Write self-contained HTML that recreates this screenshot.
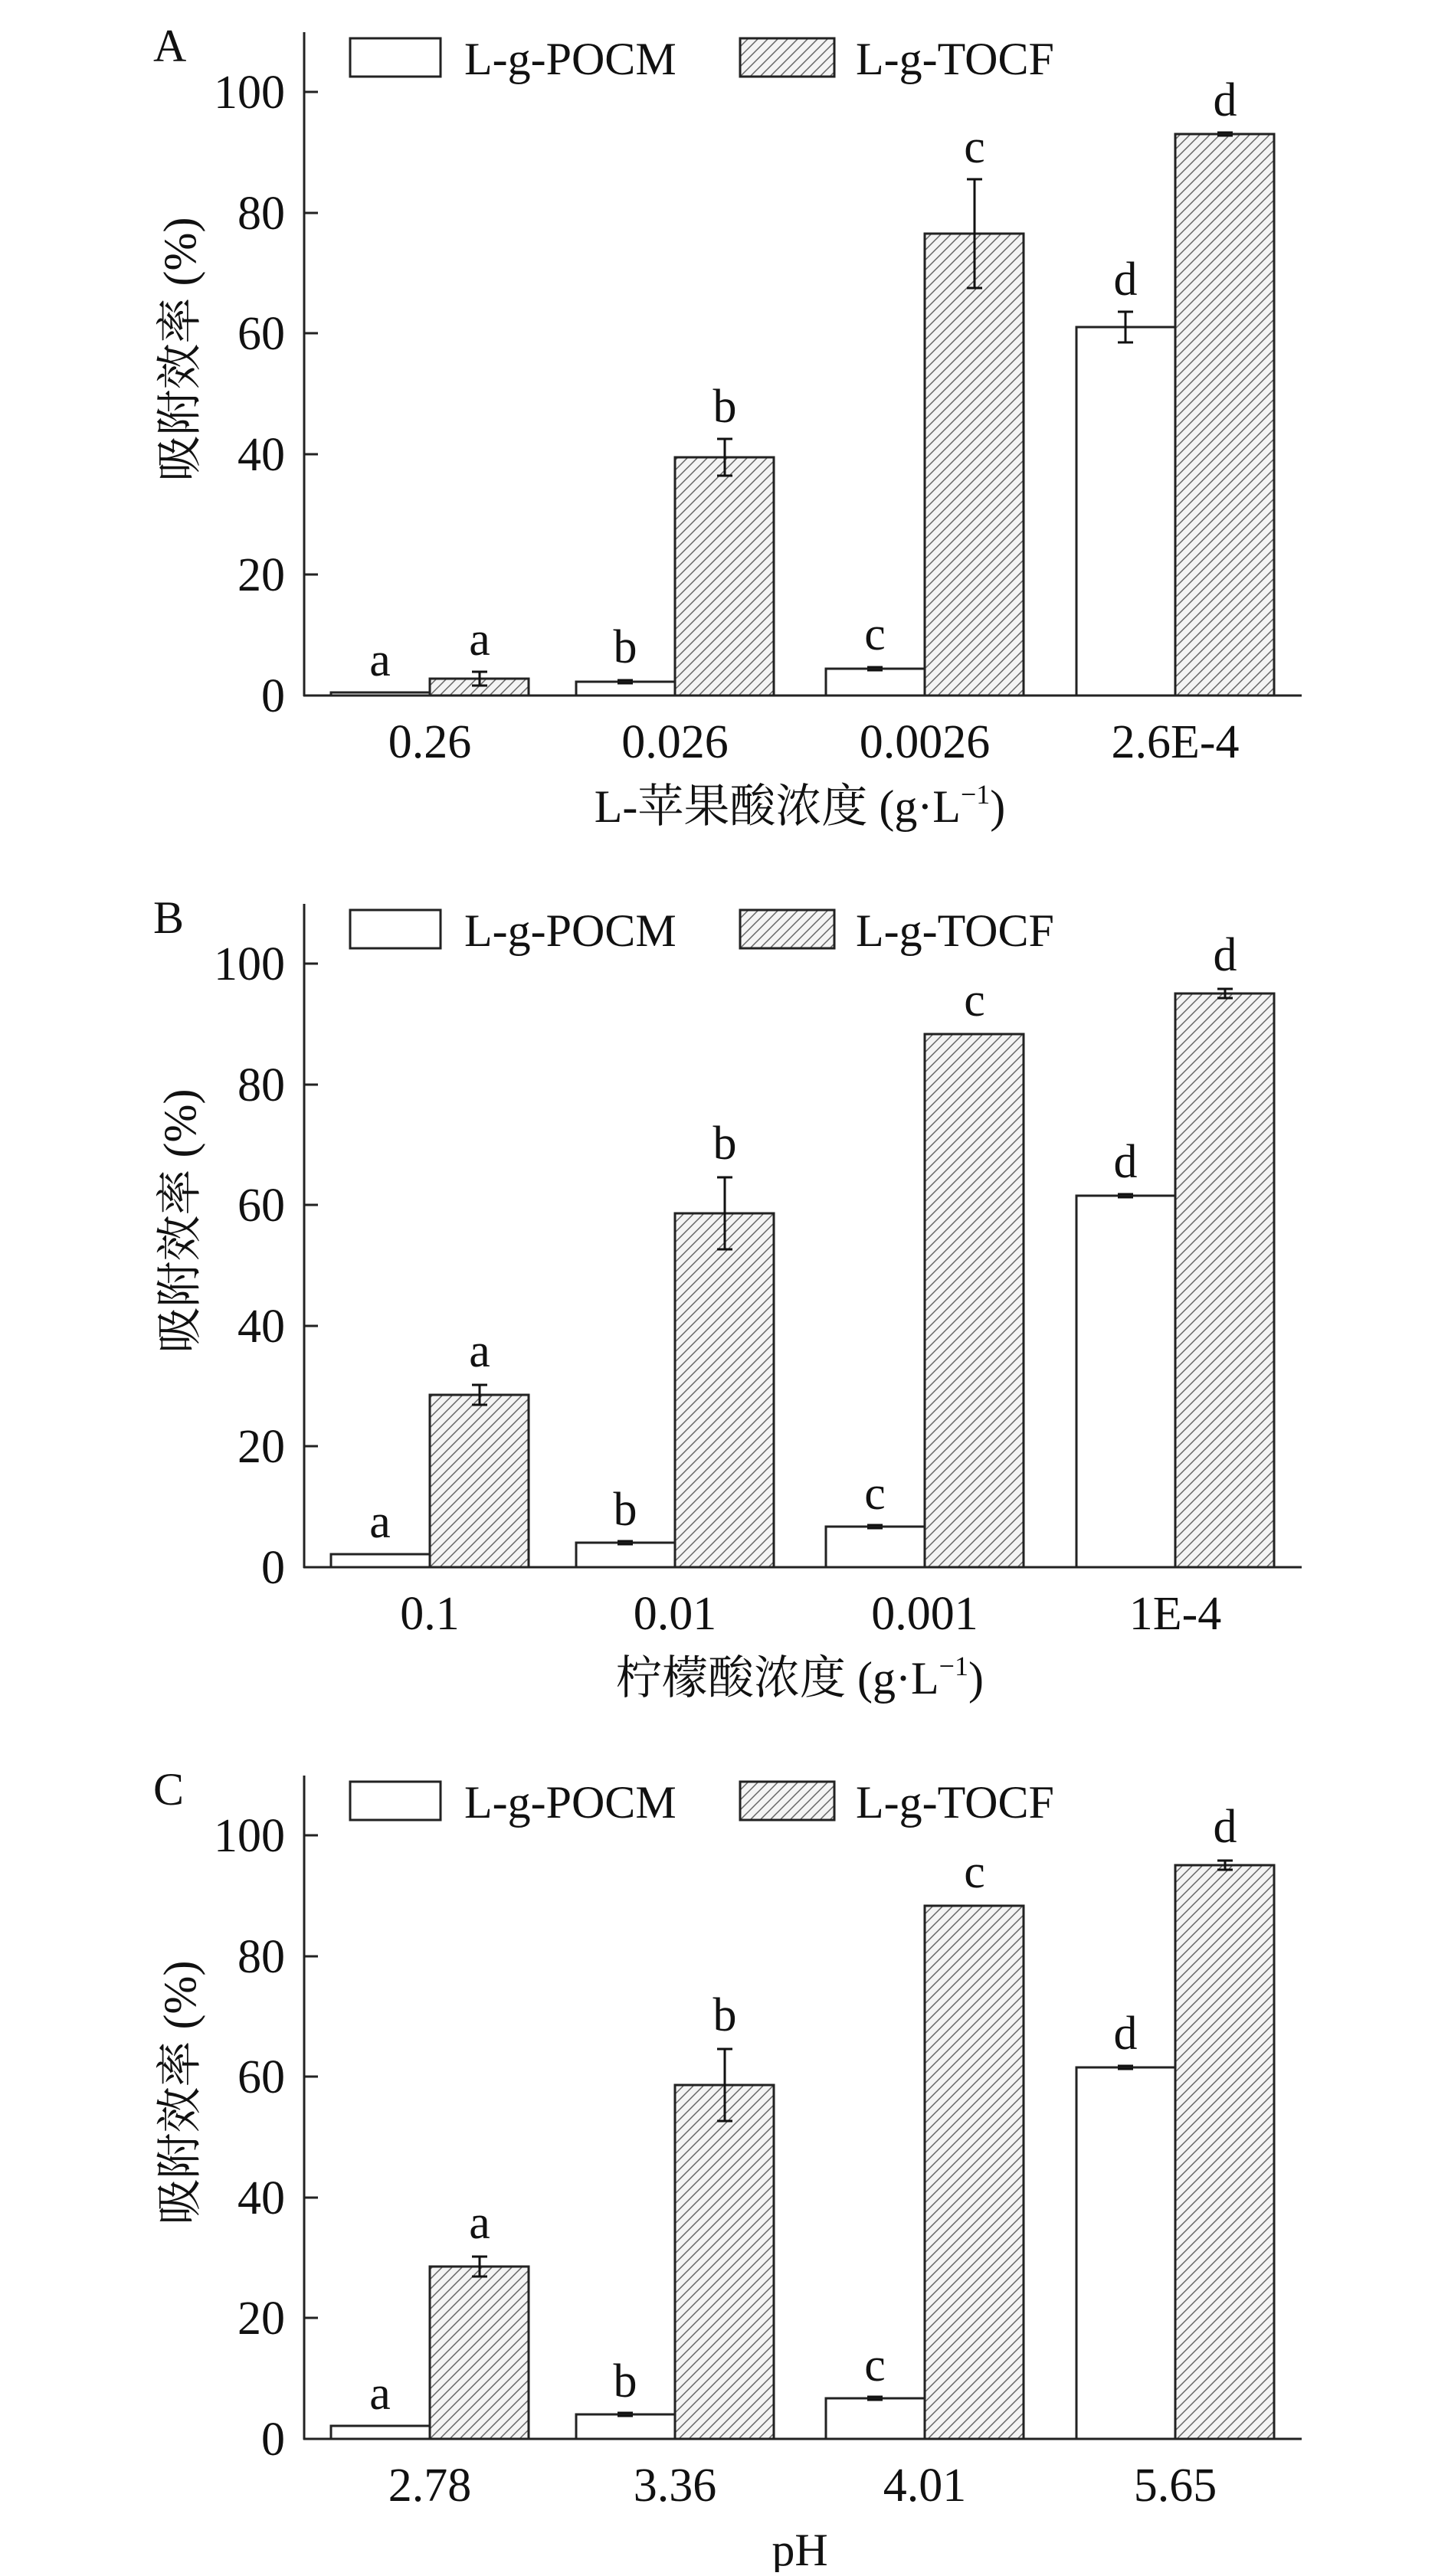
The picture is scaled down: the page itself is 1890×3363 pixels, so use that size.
<!DOCTYPE html>
<html><head><meta charset="utf-8"><style>
html,body{margin:0;padding:0;background:#fff;}
text{font-family:"Liberation Serif","Noto Serif CJK SC",serif;fill:#111;}
</style></head><body>
<svg width="1890" height="3358" viewBox="0 0 1890 3358" xmlns="http://www.w3.org/2000/svg">
<defs>
<pattern id="h" patternUnits="userSpaceOnUse" width="13" height="13">
<rect width="13" height="13" fill="#f4f4f4"/>
<path d="M-2,15 L15,-2 M-2,2 L2,-2 M11,15 L15,11" stroke="#666" stroke-width="1.5"/>
</pattern>
<g id="axes">
<line x1="397" y1="42" x2="397" y2="909" stroke="#222" stroke-width="3"/>
<line x1="396" y1="908" x2="1699" y2="908" stroke="#222" stroke-width="3"/>
<g stroke="#222" stroke-width="3">
<line x1="397" y1="908" x2="415" y2="908"/><line x1="397" y1="750" x2="415" y2="750"/>
<line x1="397" y1="593" x2="415" y2="593"/><line x1="397" y1="435" x2="415" y2="435"/>
<line x1="397" y1="278" x2="415" y2="278"/><line x1="397" y1="120" x2="415" y2="120"/>
</g>
<g font-size="62" text-anchor="end">
<text x="372" y="929">0</text><text x="372" y="771">20</text><text x="372" y="614">40</text>
<text x="372" y="456">60</text><text x="372" y="299">80</text><text x="372" y="141">100</text>
</g>
<text font-size="60" text-anchor="middle" transform="translate(255,456) rotate(-90)">吸附效率 (%)</text>
<rect x="457" y="50" width="118" height="50" fill="#fff" stroke="#222" stroke-width="3"/>
<text x="606" y="97" font-size="60">L-g-POCM</text>
<rect x="966" y="50" width="123" height="50" fill="url(#h)" stroke="#222" stroke-width="3"/>
<text x="1117" y="97" font-size="60">L-g-TOCF</text>
</g>
</defs>

<!-- Panel A -->
<g>
<use href="#axes"/>
<text x="200" y="80" font-size="60">A</text>
<g fill="#fff" stroke="#222" stroke-width="3">
<rect x="432" y="904" width="129" height="4"/><rect x="752" y="890" width="129" height="18"/>
<rect x="1078" y="873" width="129" height="35"/><rect x="1405" y="427" width="129" height="481"/>
</g>
<g fill="url(#h)" stroke="#222" stroke-width="3">
<rect x="561" y="886" width="129" height="22"/><rect x="881" y="597" width="129" height="311"/>
<rect x="1207" y="305" width="129" height="603"/><rect x="1534" y="175" width="129" height="733"/>
</g>
<g stroke="#111" stroke-width="3" fill="none">
<path d="M626,877V895M616,877H636M616,895H636"/>
<path d="M806,888H826M806,892H826"/>
<path d="M946,573V621M936,573H956M936,621H956"/>
<path d="M1132,871H1152M1132,875H1152"/>
<path d="M1272,234V376M1262,234H1282M1262,376H1282"/>
<path d="M1469,407V447M1459,407H1479M1459,447H1479"/>
<path d="M1589,173H1609M1589,177H1609"/>
</g>
<g font-size="62" text-anchor="middle">
<text x="496" y="882">a</text><text x="626" y="855">a</text>
<text x="816" y="865">b</text><text x="946" y="551">b</text>
<text x="1142" y="848">c</text><text x="1272" y="212">c</text>
<text x="1469" y="385">d</text><text x="1599" y="151">d</text>
<text x="561" y="989">0.26</text><text x="881" y="989">0.026</text>
<text x="1207" y="989">0.0026</text><text x="1534" y="989">2.6E-4</text>
</g>
<text x="1044" y="1073" font-size="60" text-anchor="middle">L-苹果酸浓度 (g·L<tspan font-size="36" dy="-24">−1</tspan><tspan dy="24">)</tspan></text>
</g>

<!-- Panel B -->
<g transform="translate(0,1138)">
<use href="#axes"/>
<text x="200" y="80" font-size="60">B</text>
<g fill="#fff" stroke="#222" stroke-width="3">
<rect x="432" y="891" width="129" height="17"/><rect x="752" y="876" width="129" height="32"/>
<rect x="1078" y="855" width="129" height="53"/><rect x="1405" y="423" width="129" height="485"/>
</g>
<g fill="url(#h)" stroke="#222" stroke-width="3">
<rect x="561" y="683" width="129" height="225"/><rect x="881" y="446" width="129" height="462"/>
<rect x="1207" y="212" width="129" height="696"/><rect x="1534" y="159" width="129" height="749"/>
</g>
<g stroke="#111" stroke-width="3" fill="none">
<path d="M626,670V696M616,670H636M616,696H636"/>
<path d="M806,874H826M806,878H826"/>
<path d="M946,399V493M936,399H956M936,493H956"/>
<path d="M1132,853H1152M1132,857H1152"/>
<path d="M1459,421H1479M1459,425H1479"/>
<path d="M1599,153V165M1589,153H1609M1589,165H1609"/>
</g>
<g font-size="62" text-anchor="middle">
<text x="496" y="869">a</text><text x="626" y="646">a</text>
<text x="816" y="853">b</text><text x="946" y="375">b</text>
<text x="1142" y="832">c</text><text x="1272" y="188">c</text>
<text x="1469" y="399">d</text><text x="1599" y="129">d</text>
<text x="561" y="989">0.1</text><text x="881" y="989">0.01</text>
<text x="1207" y="989">0.001</text><text x="1534" y="989">1E-4</text>
</g>
<text x="1044" y="1073" font-size="60" text-anchor="middle">柠檬酸浓度 (g·L<tspan font-size="36" dy="-24">−1</tspan><tspan dy="24">)</tspan></text>
</g>

<!-- Panel C -->
<g transform="translate(0,2276)">
<use href="#axes"/>
<text x="200" y="80" font-size="60">C</text>
<g fill="#fff" stroke="#222" stroke-width="3">
<rect x="432" y="891" width="129" height="17"/><rect x="752" y="876" width="129" height="32"/>
<rect x="1078" y="855" width="129" height="53"/><rect x="1405" y="423" width="129" height="485"/>
</g>
<g fill="url(#h)" stroke="#222" stroke-width="3">
<rect x="561" y="683" width="129" height="225"/><rect x="881" y="446" width="129" height="462"/>
<rect x="1207" y="212" width="129" height="696"/><rect x="1534" y="159" width="129" height="749"/>
</g>
<g stroke="#111" stroke-width="3" fill="none">
<path d="M626,670V696M616,670H636M616,696H636"/>
<path d="M806,874H826M806,878H826"/>
<path d="M946,399V493M936,399H956M936,493H956"/>
<path d="M1132,853H1152M1132,857H1152"/>
<path d="M1459,421H1479M1459,425H1479"/>
<path d="M1599,153V165M1589,153H1609M1589,165H1609"/>
</g>
<g font-size="62" text-anchor="middle">
<text x="496" y="869">a</text><text x="626" y="646">a</text>
<text x="816" y="853">b</text><text x="946" y="375">b</text>
<text x="1142" y="832">c</text><text x="1272" y="188">c</text>
<text x="1469" y="399">d</text><text x="1599" y="129">d</text>
<text x="561" y="989">2.78</text><text x="881" y="989">3.36</text>
<text x="1207" y="989">4.01</text><text x="1534" y="989">5.65</text>
</g>
<text x="1044" y="1073" font-size="60" text-anchor="middle">pH</text>
</g>
</svg>
</body></html>
